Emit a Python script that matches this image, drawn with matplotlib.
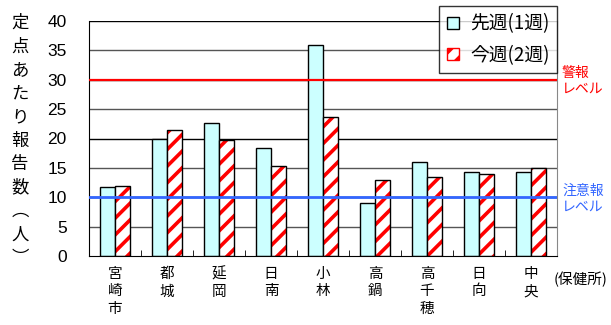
import matplotlib
matplotlib.use("Agg")
from matplotlib import pyplot as plt
from matplotlib.patches import Patch
import numpy as np

plt.rcParams['font.family'] = ['Noto Sans CJK JP', 'DejaVu Sans']
plt.rcParams['hatch.linewidth'] = 2.6

areas = ["宮崎市", "都城", "延岡", "日南", "小林", "高鍋", "高千穂", "日向", "中央"]
prev_week = [11.8, 19.9, 22.7, 18.4, 35.9, 9.1, 16.0, 14.3, 14.3]
this_week = [12.0, 21.4, 19.7, 15.3, 23.6, 12.9, 13.4, 14.0, 15.0]
warning_level = 30
caution_level = 10
yticks = [0, 5, 10, 15, 20, 25, 30, 35, 40]

fig = plt.figure(figsize=(6.11, 3.25), dpi=100)
ax = fig.add_axes([89/611, 1-256/325, (557-89)/611, (256-21)/325])

x = np.arange(len(areas))
w = 0.29

# gridlines
for v in yticks[1:]:
    ax.axhline(v, color="black" if v % 10 == 0 else "#555555", lw=1.0, zorder=0)

ax.bar(x - w/2, prev_week, w, color="#CCFFFF", edgecolor="black", lw=1.0, zorder=2)
ax.bar(x + w/2, this_week, w, color="white", edgecolor="#FF0000", hatch="//", lw=0, zorder=2)
ax.bar(x + w/2, this_week, w, fill=False, edgecolor="black", lw=1.0, zorder=3)

ax.axhline(warning_level, color="#FF0000", lw=1.6, zorder=4)
ax.axhline(caution_level, color="#3366FF", lw=2.0, zorder=4)

ax.set_xlim(-0.5, len(areas) - 0.5)
ax.set_ylim(0, 40)
ax.set_yticks(yticks)
ax.set_yticklabels([str(v) for v in yticks], fontsize=12.5, family="Liberation Sans")
ax.tick_params(axis="y", length=0, pad=16)
ax.set_xticks(x)
ax.set_xticklabels(["\n".join(a) for a in areas], fontsize=10.5, linespacing=1.3)
ax.tick_params(axis="x", length=0, pad=8)
ax.set_xticks(np.arange(len(areas) + 1) - 0.5, minor=True)
ax.tick_params(axis="x", which="minor", direction="in", length=4, color="black")

ax.spines["top"].set_visible(False)
ax.spines["right"].set_color("#888888")
ax.spines["left"].set_color("black")
ax.spines["bottom"].set_color("black")

# y label, stacked vertically
ylab = "定点あたり報告数︵人︶"
for i, ch in enumerate(ylab):
    fig.text(20/611, 1 - (23 + i*23.5)/325, ch, fontsize=12.5, ha="center", va="center")

fig.text(554/611, 1 - 279/325, "(保健所)", fontsize=10.5, ha="left", va="center")

fig.text(562/611, 1 - 81/325, "警報\nレベル", color="#FF0000", fontsize=10,
         ha="left", va="center", linespacing=1.2)
fig.text(562/611, 1 - 199/325, "注意報\nレベル", color="#3366FF", fontsize=10,
         ha="left", va="center", linespacing=1.2)

handles = [Patch(facecolor="#CCFFFF", edgecolor="black"),
           Patch(facecolor="white", edgecolor="#FF0000", hatch="//")]
leg = fig.legend(handles, ["先週(1週)", "今週(2週)"], loc="upper right",
                 bbox_to_anchor=(557/611, 1 - 6/325), borderaxespad=0, fontsize=13.5,
                 frameon=True, fancybox=False, edgecolor="black",
                 handlelength=0.65, handleheight=0.65, borderpad=0.4,
                 labelspacing=0.55, handletextpad=0.6)
leg.get_frame().set_linewidth(1.0)

fig.savefig("out.png", dpi=100)
